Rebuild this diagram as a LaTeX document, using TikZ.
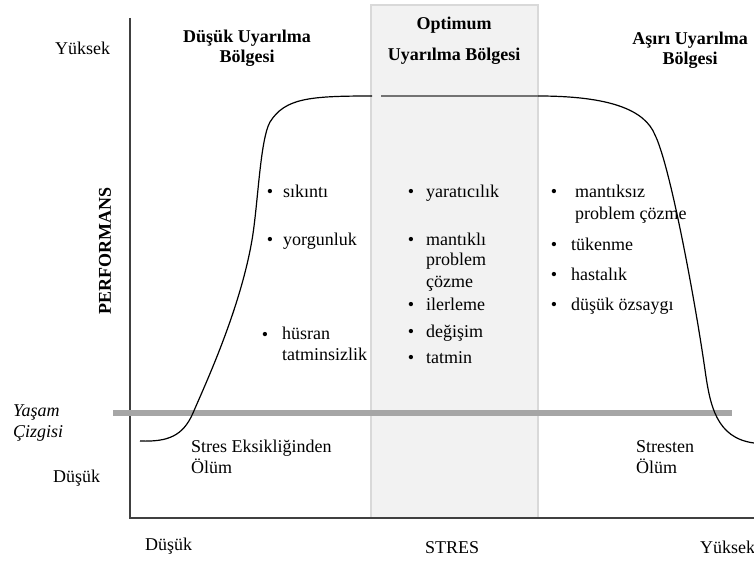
\documentclass[tikz,border=0pt]{standalone}
\usepackage{fontspec}
\setmainfont{Liberation Serif}
\tikzset{
  metin/.style={font=\fontsize{18}{21}\selectfont, inner sep=0pt, anchor=base west, align=left},
  baslik/.style={font=\fontsize{18}{20}\selectfont\bfseries, inner sep=0pt, anchor=base, align=center},
  nokta/.style={font=\fontsize{18}{21}\selectfont, inner sep=0pt, anchor=base},
}
\begin{document}
\begin{tikzpicture}[x=1pt, y=-1pt]
    \useasboundingbox (0,0) rectangle (754,561);

    % 最优区域背景
    \draw[fill=black!5, draw=black!15, line width=1.5pt] (371,5) rectangle (538,518);

    % 坐标轴
    \coordinate (O) at (130,518);
    \coordinate (Ytop) at (130,18);
    \coordinate (Xend) at (754,518);
    \draw[black!75, line width=1.5pt] (Ytop) -- (O) -- (Xend);

    % 生存线
    \coordinate (L1) at (113,413);
    \coordinate (L2) at (732,413);
    \draw[black!35, line width=6pt] (L1) -- (L2);

    % 表现曲线
    \coordinate (P0) at (140,441);
    \coordinate (P1) at (372,96);
    \coordinate (P2) at (381,96);
    \coordinate (P3) at (538,96);
    \coordinate (P4) at (754,443);
    \draw[line width=1.2pt] (P0) .. controls (168,442) and (183,436) .. (193,413)
        .. controls (205,385) and (240,310) .. (252,240)
        .. controls (258,205) and (260,140) .. (270,122)
        .. controls (285,98) and (310,96) .. (P1);
    \draw[black!55, line width=2pt] (P2) -- (P3);
    \draw[line width=1.2pt] (P3) .. controls (610,96) and (645,110) .. (655,135)
        .. controls (670,165) and (695,300) .. (705,370)
        .. controls (710,405) and (716,438) .. (P4);

    % 区域标题（多行节点的 base 在最后一行）
    \node[baslik] (dusuk) at (247,63) {Düşük Uyarılma\\Bölgesi};
    \node[baslik] (optimum) at (454,30) {Optimum};
    \node[baslik] (optimum2) at (454,61) {Uyarılma Bölgesi};
    \node[baslik] (asiri) at (690,65) {Aşırı Uyarılma\\Bölgesi};

    % 坐标轴标签
    \node[metin] (yYuksek) at (55,55) {Yüksek};
    \node[metin] (yDusuk) at (53,482) {Düşük};
    \node[font=\fontsize{18}{21}\selectfont\bfseries, rotate=90, inner sep=0pt] (perf) at (105,251) {PERFORMANS};
    \node[metin, font=\fontsize{18}{21}\selectfont\itshape] (yasam) at (13,437) {Yaşam\\Çizgisi};
    \node[metin] (xDusuk) at (145,550) {Düşük};
    \node[metin] (stres) at (425,553) {STRES};
    \node[metin] (xYuksek) at (700,553) {Yüksek};

    % 死亡说明
    \node[metin] (olum1) at (191,473) {Stres Eksikliğinden\\Ölüm};
    \node[metin] (olum2) at (636,473) {Stresten\\Ölüm};

    % 低唤醒区
    \node[nokta] (n1) at (270,198) {\textbullet};
    \node[metin] (sikinti) at (283,198) {sıkıntı};
    \node[nokta] (n2) at (270,245) {\textbullet};
    \node[metin] (yorgunluk) at (283,245) {yorgunluk};
    \node[nokta] (n3) at (265,340) {\textbullet};
    \node[metin] (husran) at (282,360) {hüsran\\tatminsizlik};

    % 最优区
    \node[nokta] (n4) at (411,198) {\textbullet};
    \node[metin] (yaraticilik) at (426,198) {yaratıcılık};
    \node[nokta] (n5) at (411,245) {\textbullet};
    \node[metin] (mantikli) at (426,287) {mantıklı\\problem\\çözme};
    \node[nokta] (n6) at (411,310) {\textbullet};
    \node[metin] (ilerleme) at (426,310) {ilerleme};
    \node[nokta] (n7) at (411,337) {\textbullet};
    \node[metin] (degisim) at (426,337) {değişim};
    \node[nokta] (n8) at (411,363) {\textbullet};
    \node[metin] (tatmin) at (426,363) {tatmin};

    % 过度唤醒区
    \node[nokta] (n9) at (554,198) {\textbullet};
    \node[metin] (mantiksiz) at (575,219) {mantıksız\\problem çözme};
    \node[nokta] (n10) at (554,250) {\textbullet};
    \node[metin] (tukenme) at (571,250) {tükenme};
    \node[nokta] (n11) at (554,280) {\textbullet};
    \node[metin] (hastalik) at (571,280) {hastalık};
    \node[nokta] (n12) at (554,310) {\textbullet};
    \node[metin] (ozsaygi) at (571,310) {düşük özsaygı};
\end{tikzpicture}
\end{document}
